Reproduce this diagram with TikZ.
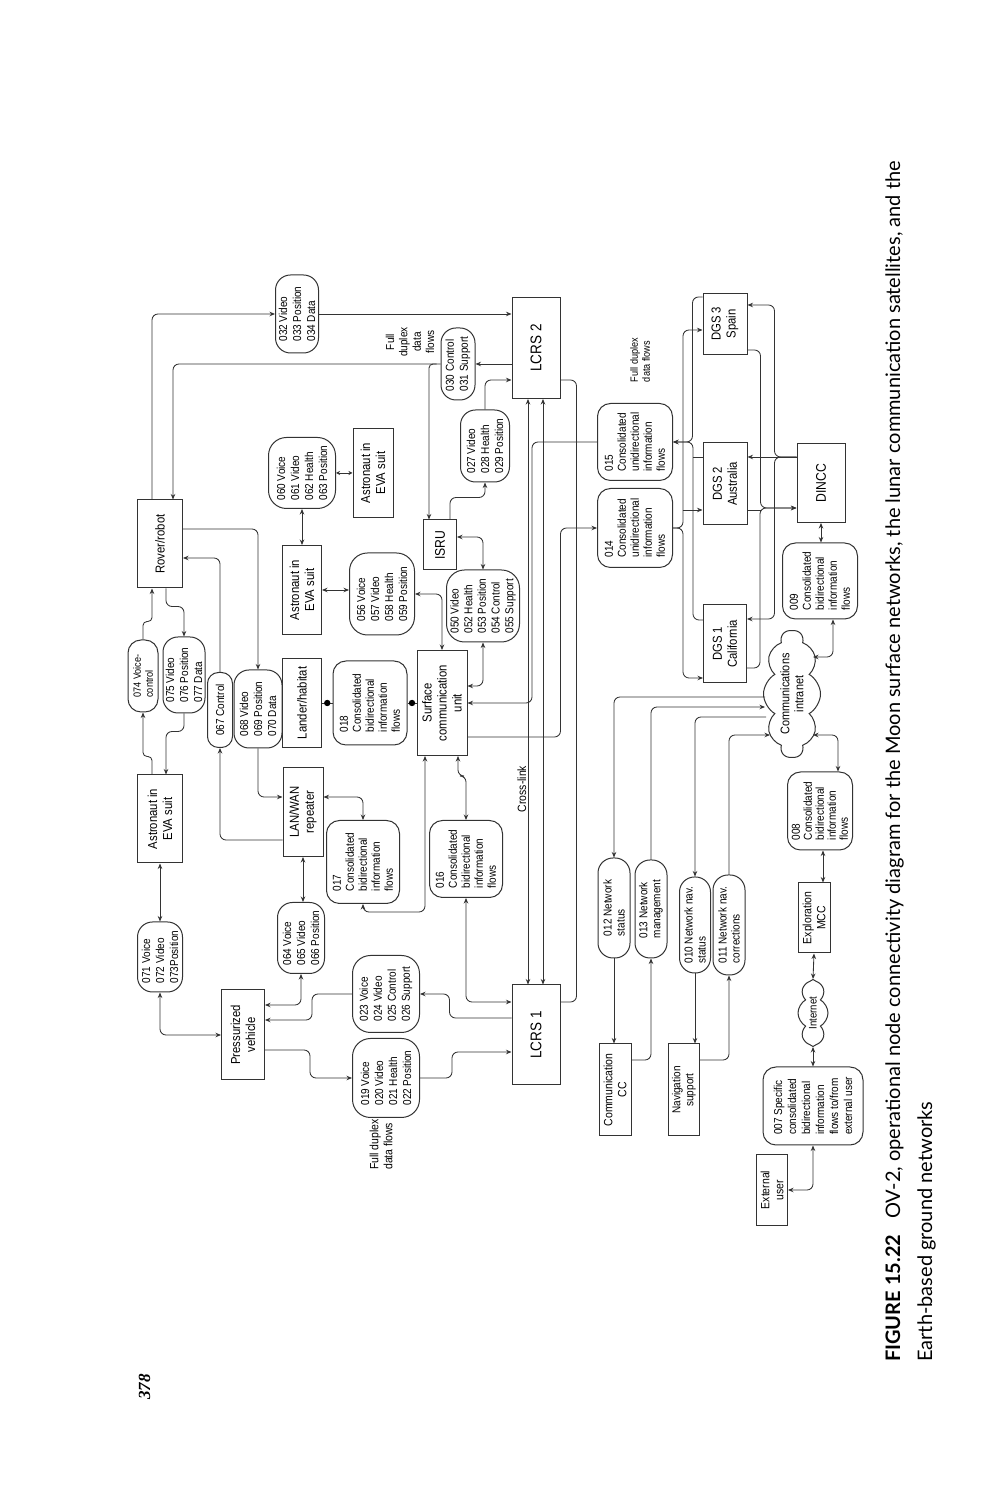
\documentclass[tikz,border=0pt]{standalone}
\usepackage{fontspec}
\usetikzlibrary{arrows.meta,calc,shapes.symbols}
\newfontfamily\dg[FakeStretch=0.87]{Liberation Sans}
\newfontfamily\capfont{Lato}
\newfontfamily\pgfont{Liberation Serif}
\begin{document}
\begin{tikzpicture}[x=1pt,y=1pt,
  ln/.style={draw=black!80, line width=1pt},
  bx/.style={ln, rectangle, inner sep=1pt, align=center, font=\dg\fontsize{13}{15}\selectfont},
  pill/.style={ln, rectangle, rounded corners=15pt, inner sep=1pt, align=left, font=\dg\fontsize{11.5}{14}\selectfont},
  rbox/.style={ln, rectangle, rounded corners=13pt, inner sep=2pt, align=left, font=\dg\fontsize{11.5}{13}\selectfont},
  cl/.style={ln, cloud, cloud puffs=10, cloud puff arc=120, cloud ignores aspect, inner sep=0pt, align=center, font=\dg\fontsize{12.5}{14}\selectfont},
  lbl/.style={inner sep=0pt, align=center, font=\dg\fontsize{11.5}{13.3}\selectfont},
  con/.style={draw=black!80, line width=0.85pt, rounded corners=6pt},
  arr/.style={con, -{Stealth[length=5.5pt,width=4.5pt]}},
  darr/.style={con, {Stealth[length=5.5pt,width=4.5pt]}-{Stealth[length=5.5pt,width=4.5pt]}},
]
\useasboundingbox (0,0) rectangle (993,1500);
\fill[white] (0,0) rectangle (993,1500);
\begin{scope}[rotate=90, transform shape]
% ---------------- nodes ----------------
\node[bx, minimum width=88, minimum height=45] (rover) at (956,-160) {Rover/robot};
\node[bx, minimum width=88, minimum height=45] (astA) at (681,-160) {Astronaut in\\EVA suit};
\node[pill, minimum width=70, minimum height=45] (p071) at (543,-160) {071 Voice\\072 Video\\073Position};
\node[bx, minimum width=90, minimum height=43] (press) at (465,-243) {Pressurized\\vehicle};
\node[pill, minimum width=72, minimum height=30, rounded corners=13pt, font=\dg\fontsize{10.5}{12}\selectfont] (p074) at (824,-143) {074 Voice-\\control};
\node[pill, minimum width=76, minimum height=42] (p075) at (825,-184) {075 Video\\076 Position\\077 Data};
\node[pill, minimum width=75, minimum height=25, rounded corners=11pt] (p067) at (790,-220) {067 Control};
\node[pill, minimum width=78, minimum height=48] (p068) at (791,-258) {068 Video\\069 Position\\070 Data};
\node[bx, minimum width=89, minimum height=39] (lander) at (797,-302) {Lander/habitat};
\node[bx, minimum width=89, minimum height=39] (astB) at (910,-302) {Astronaut in\\EVA suit};
\node[pill, minimum width=71, minimum height=67, rounded corners=18pt] (p060) at (1027,-302) {060 Voice\\061 Video\\062 Health\\063 Position};
\node[bx, minimum width=89, minimum height=40] (astC) at (1027,-373) {Astronaut in\\EVA suit};
\node[pill, minimum width=82, minimum height=65, rounded corners=18pt] (p056) at (906,-382) {056 Voice\\057 Video\\058 Health\\059 Position};
\node[rbox, minimum width=84, minimum height=74] (r018) at (797,-370) {018\\Consolidated\\bidirectional\\information\\flows};
\node[bx, minimum width=105, minimum height=50] (scu) at (797,-442) {Surface\\communication\\unit};
\node[bx, minimum width=50, minimum height=33, font=\dg\fontsize{14}{16}\selectfont] (isru) at (955,-440) {ISRU};
\node[pill, minimum width=72, minimum height=49] (p027) at (1054,-485) {027 Video\\028 Health\\029 Position};
\node[pill, minimum width=72, minimum height=73, rounded corners=18pt, font=\dg\fontsize{11.5}{13.7}\selectfont] (p050) at (894,-483) {050 Video\\052 Health\\053 Position\\054 Control\\055 Support};
\node[bx, minimum width=101, minimum height=48, font=\dg\fontsize{15.5}{17}\selectfont] (lcrs2) at (1152,-536) {LCRS 2};
\node[pill, minimum width=72, minimum height=34] (p030) at (1136,-458) {030 Control\\031 Support};
\node[lbl] (fd1) at (1158,-410) {Full\\duplex\\data\\flows};
\node[pill, minimum width=78, minimum height=43] (p032) at (1186,-297) {032 Video\\033 Position\\034 Data};
\node[rbox, minimum width=77, minimum height=75] (r015) at (1058,-635) {015\\Consolidated\\unidirectional\\information\\flows};
\node[rbox, minimum width=79, minimum height=75] (r014) at (972,-635) {014\\Consolidated\\unidirectional\\information\\flows};
\node[lbl, align=left, font=\dg\fontsize{10.5}{12}\selectfont] (fd2) at (1140,-640) {Full duplex\\data flows};
\node[bx, minimum width=61, minimum height=44] (dgs3) at (1176,-725) {DGS 3\\Spain};
\node[bx, minimum width=82, minimum height=44] (dgs2) at (1016,-725) {DGS 2\\Australia};
\node[bx, minimum width=78, minimum height=43] (dgs1) at (856,-725) {DGS 1\\California};
\node[bx, minimum width=79, minimum height=48, font=\dg\fontsize{14}{16}\selectfont] (dincc) at (1017,-821) {DINCC};
\node[rbox, minimum width=76, minimum height=75] (r009) at (919,-820) {009\\Consolidated\\bidirectional\\information\\flows};
\node[cl, minimum width=127, minimum height=57] (cloudCI) at (806,-792) {Communications\\intranet};
\node[rbox, minimum width=78, minimum height=65, font=\dg\fontsize{11.5}{12}\selectfont] (r008) at (689,-820) {008\\Consolidated\\bidirectional\\information\\flows};
\node[bx, minimum width=70, minimum height=32, font=\dg\fontsize{12}{14}\selectfont] (mcc) at (582,-814) {Exploration\\MCC};
\node[cl, minimum width=67, minimum height=30, cloud puffs=8, font=\dg\fontsize{11}{13}\selectfont] (inet) at (487,-813) {Internet};
\node[rbox, minimum width=78, minimum height=100, font=\dg\fontsize{11.5}{14}\selectfont] (r007) at (394,-813) {007 Specific\\consolidated\\bidirectional\\information\\flows to/from\\external user};
\node[bx, minimum width=71, minimum height=31, font=\dg\fontsize{12}{14}\selectfont] (extuser) at (310,-772) {External\\user};
\node[bx, minimum width=92, minimum height=31, font=\dg\fontsize{11.5}{13}\selectfont] (nav) at (410,-684) {Navigation\\support};
\node[pill, minimum width=96, minimum height=31, font=\dg\fontsize{11.5}{13}\selectfont] (p010) at (575,-695) {010 Network nav.\\status};
\node[pill, minimum width=100, minimum height=32, font=\dg\fontsize{11.5}{13}\selectfont] (p011) at (575,-729) {011 Network nav.\\corrections};
\node[pill, minimum width=100, minimum height=32, font=\dg\fontsize{11.5}{13}\selectfont] (p012) at (592,-614) {012 Network\\status};
\node[pill, minimum width=98, minimum height=32, font=\dg\fontsize{11.5}{13}\selectfont] (p013) at (591,-651) {013 Network\\management};
\node[bx, minimum width=92, minimum height=32, font=\dg\fontsize{12}{14}\selectfont] (comcc) at (410,-615) {Communication\\CC};
\node[bx, minimum width=100, minimum height=48, font=\dg\fontsize{15.5}{17}\selectfont] (lcrs1) at (465,-536) {LCRS 1};
\node[pill, minimum width=79, minimum height=67, rounded corners=18pt] (p019) at (422,-386) {019 Voice\\020 Video\\021 Health\\022 Position};
\node[lbl, align=left, anchor=west, font=\dg\fontsize{12}{14}\selectfont] (fd3) at (330,-381) {Full duplex\\data flows};
\node[pill, minimum width=77, minimum height=67, rounded corners=18pt] (p023) at (506,-386) {023 Voice\\024 Video\\025 Control\\026 Support};
\node[rbox, minimum width=77, minimum height=73] (r016) at (641,-466) {016\\Consolidated\\bidirectional\\information\\flows};
\node[rbox, minimum width=83, minimum height=73] (r017) at (638,-363) {017\\Consolidated\\bidirectional\\information\\flows};
\node[pill, minimum width=71, minimum height=47] (p064) at (562,-301) {064 Voice\\065 Video\\066 Position};
\node[bx, minimum width=89, minimum height=40] (lanwan) at (688,-303) {LAN/WAN\\repeater};
\node[lbl, anchor=base, font=\dg\fontsize{12}{14}\selectfont] (xl) at (711,-526) {Cross-link};
% ---------------- connectors ----------------
\draw[arr, rounded corners=4pt] ($(astA.east)+(0,8)$) -- ++(18,0) |- (p074.west);
\draw[arr, rounded corners=4pt] (p074.east) -- ++(18,0) |- ($(rover.west)+(0,8)$);
\draw[arr] ($(rover.west)+(0,-6)$) -- ++(-18,0) |- (p075.east);
\draw[arr] (p075.west) -- ++(-18,0) |- ($(astA.east)+(0,-6)$);
\draw[darr] (astA.west) -- (p071.east);
\draw[darr] (p071.west) -| (press.north);
\draw[darr] ($(press.south)+(30,0)$) |- (p064.west);
\draw[arr] (p023.north) -- ++(0,40) -| ($(press.south)+(15,0)$);
\draw[arr] ($(press.south)+(-15,0)$) -- ++(0,-45) -| (p019.north);
\draw[arr] (p019.south) -- ++(0,-32) -| ($(lcrs1.north)+(-17,0)$);
\draw[arr] ($(lcrs1.north)+(17,0)$) -- ++(0,62) -| (p023.south);
\draw[darr] (r016.west) -| ($(lcrs1.north)+(33,0)$);
\draw[darr] ($(scu.west)+(0,-16)$) -- ++(-20,0) |- (r016.east);
\draw[darr] (r017.west) -- ++(-8,0) |- ($(scu.west)+(0,17)$);
\draw[darr] ($(lanwan.south)+(15,0)$) |- (r017.east);
\draw[darr] (lanwan.west) -- (lanwan.west -| p064.east);
\draw[arr] ($(lanwan.north)+(-28,0)$) |- (p067.west);
\draw[arr] (p068.west) -| ($(lanwan.north)+(15,0)$);
\draw[arr] (p067.east) -| ($(rover.south)+(-14,0)$);
\draw[arr] ($(rover.south)+(15,0)$) |- (p068.east);
\draw[arr] ($(rover.east)+(0,8)$) -| (p032.north);
\draw[arr] (p032.south) -- (p032.south |- lcrs2.north);
\draw[arr] (lcrs2.north -| p030.south) -- (p030.south);
\draw[arr] (p030.north) |- ($(rover.east)+(0,-13)$);
\draw[arr, rounded corners=4pt] ($(p030.north)+(0,4)$) |- ($(isru.east)+(0,11)$);
\draw[arr] ($(isru.east)+(0,-10)$) -- ++(22,0) |- (p027.west);
\draw[arr] (p027.east) -| ($(lcrs2.north)+(-32,0)$);
\draw[darr] ($(isru.south)+(8,0)$) |- (p050.east);
\draw[darr] (p050.west) -| ($(scu.south)+(17,0)$);
\draw[darr] (scu.east) -| (p056.south);
\draw[darr] (astB.south) -- (astB.south |- p056.north);
\draw[darr] (astB.east) -- (astB.east -| p060.west);
\draw[con, {Stealth[length=4pt,width=4pt]}-{Stealth[length=4pt,width=4pt]}] (p060.south) -- (astC.north);
\draw[con] (lander.south) -- (r018.north);
\fill ($(lander.south)!0.5!(r018.north)$) circle (3.2);
\draw[con] (r018.south) -- (scu.north);
\fill ($(r018.south)!0.5!(scu.north)$) circle (3.2);
% cross links
\draw[darr] ($(lcrs1.east)+(0,8)$) -- ($(lcrs2.west)+(0,8)$);
\draw[darr] ($(lcrs1.east)+(0,-7)$) -- ($(lcrs2.west)+(0,-7)$);
\draw[con] ($(lcrs2.south)+(-32,0)$) -- ++(0,-16) -| ($(lcrs1.south)+(33,0)$);
\draw[arr] (r015.north) -- ++(0,65) -| (scu.south);
\draw[arr] ($(scu.south)+(-34,0)$) -- ++(0,-93) -| (r014.north);
% DGS buses
\draw[arr] (r014.south) -- ++(0,-10) -| ($(dgs3.north)+(-6,0)$);
\draw[arr] (r014.south) -- ++(0,-10) -| ($(dgs1.north)+(-34,0)$);
\draw[arr] ($(dgs2.north)+(-26,20)$) -- ($(dgs2.north)+(-26,0)$);
\draw[arr] ($(dgs3.north)+(27,0)$) -- ++(0,10) -| (r015.south);
\draw[arr] ($(dgs1.north)+(24,0)$) -- ++(0,10) -| (r015.south);
\draw[con] ($(dgs2.north)+(27,0)$) -- ++(0,10);
\draw[arr] ($(dgs3.south)+(-26,0)$) -- ++(0,-13) -| ($(dincc.north)+(-25,0)$);
\draw[arr] ($(dgs1.south)+(-24,0)$) -- ++(0,-13) -| ($(dincc.north)+(-25,0)$);
\draw[con] ($(dgs2.south)+(-26,0)$) -- ++(0,-13);
\draw[arr] ($(dincc.north)+(26,0)$) -- ($(dgs2.south)+(27,0)$);
\draw[arr] ($(dincc.north)+(26,0)$) -- ++(0,22) -| ($(dgs3.south)+(19,0)$);
\draw[arr] ($(dincc.north)+(26,0)$) -- ++(0,22) -| ($(dgs1.south)+(25,0)$);
\draw[darr] (dincc.west) -- (dincc.west -| r009.east);
\draw[darr] ($(r009.west)+(0,-13)$) -| ($(cloudCI.center)+(37,-21)$);
\draw[darr] ($(r008.east)+(0,-18)$) -| ($(cloudCI.center)+(-41,-21)$);
\draw[darr] ($(r008.west)+(0,-3)$) -- ($(mcc.east)+(0,-9)$);
\draw[darr] (mcc.west) -- (inet.east);
\draw[darr] (inet.west) -- (r007.east);
\draw[darr] (r007.west) -| (extuser.south);
% ground network
\draw[arr] (p011.east) -| ($(cloudCI.center)+(-41,22)$);
\draw[arr] ($(cloudCI.center)+(-23,26)$) |- (p010.east);
\draw[arr] (p013.east) -| ($(cloudCI.center)+(-13,27)$);
\draw[arr] ($(cloudCI.center)+(-3,27)$) |- (p012.east);
\draw[arr] (p012.west) -- (p012.west -| comcc.east);
\draw[arr] ($(comcc.south)+(30,0)$) |- (p013.west);
\draw[arr] (p010.west) -- (p010.west -| nav.east);
\draw[arr] ($(nav.south)+(30,0)$) |- (p011.west);
% caption
\node[anchor=base west, inner sep=0pt, font=\capfont\fontsize{20}{24}\selectfont] (cap1) at (138,-900) {\textbf{FIGURE 15.22}\hspace{0.8em}OV-2, operational node connectivity diagram for the Moon surface networks, the lunar communication satellites, and the};
\node[anchor=base west, inner sep=0pt, font=\capfont\fontsize{20}{24}\selectfont] (cap2) at (138,-932) {Earth-based ground networks};
\node[anchor=base west, inner sep=0pt, font=\pgfont\fontsize{17}{20}\selectfont\bfseries\itshape] (pg) at (100,-150) {378};
\end{scope}
\end{tikzpicture}
\end{document}
